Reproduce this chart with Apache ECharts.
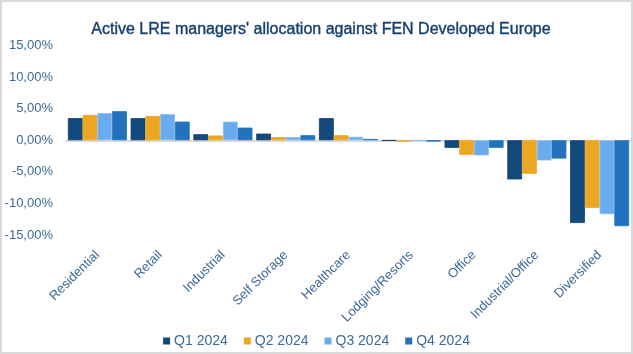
<!DOCTYPE html>
<html>
<head>
<meta charset="utf-8">
<script src="https://cdn.jsdelivr.net/npm/echarts@6/dist/echarts.min.js"></script>
<style>
  html, body { margin: 0; padding: 0; background: #fff; }
  #wrap { position: relative; width: 633px; height: 354px; }
  #main { width: 633px; height: 354px; }
  #frame { position: absolute; left: 0; top: 0; width: 633px; height: 354px;
           box-sizing: border-box; border: 2px solid #d9d9d9; pointer-events: none; }
</style>
</head>
<body>
<div id="wrap"><div id="main"></div><div id="frame"></div></div>
<script>
// categories and quarterly active allocation (%)
var categories = ['Residential', 'Retail', 'Industrial', 'Self Storage', 'Healthcare',
    'Lodging/Resorts', 'Office', 'Industrial/Office', 'Diversified'];
var q1 = [3.5, 3.5, 0.95, 1.05, 3.5, -0.05, -1.2, -6.2, -13.1];
var q2 = [4.0, 3.85, 0.75, 0.5, 0.8, -0.2, -2.3, -5.3, -10.7];
var q3 = [4.3, 4.15, 2.95, 0.5, 0.55, -0.05, -2.4, -3.2, -11.7];
var q4 = [4.6, 2.95, 2.0, 0.8, 0.2, -0.2, -1.2, -2.9, -13.6];
var seriesNames = ['Q1 2024', 'Q2 2024', 'Q3 2024', 'Q4 2024'];
var colors = ['#134a7e', '#eba721', '#6aaaef', '#2272be'];
var borders = ['#0e3a66', '#eba721', '#8cc0f4', '#2272be'];

var font = '"Liberation Sans", Arial, sans-serif';
var txtColor = '#3d6a9a';

var myChart = echarts.init(document.getElementById('main'));

var allData = [q1, q2, q3, q4];
var series = [];
for (var i = 0; i < allData.length; i++) {
    series.push({
        name: seriesNames[i],
        type: 'bar',
        data: allData[i],
        barGap: '0%',
        barCategoryGap: '6%',
        itemStyle: { color: colors[i], borderColor: borders[i], borderWidth: 0.8 }
    });
}

var option = {
    animation: false,
    title: {
        text: "Active LRE managers' allocation against FEN Developed Europe",
        left: 316,
        textAlign: 'center',
        top: 17,
        textStyle: {
            color: '#17406f', fontSize: 16, fontWeight: 'normal', fontFamily: font,
            textBorderColor: '#17406f', textBorderWidth: 0.4
        }
    },
    legend: {
        data: seriesNames,
        left: 'center',
        top: 329,
        itemWidth: 7,
        itemHeight: 7,
        itemGap: 16,
        icon: 'rect',
        itemStyle: { borderWidth: 0 },
        textStyle: { color: txtColor, fontSize: 14, fontFamily: font, padding: [0, 0, 0, -1] }
    },
    grid: { left: 66, right: 2, top: 45.5, bottom: 119 },
    xAxis: [
        {
            // labels sit under the plot
            type: 'category',
            data: categories,
            position: 'bottom',
            axisLine: { show: false, onZero: false },
            axisTick: { show: false },
            axisLabel: {
                rotate: 45,
                margin: 18,
                color: txtColor,
                fontSize: 13,
                fontFamily: font,
                interval: 0
            }
        },
        {
            // zero line
            type: 'category',
            data: categories,
            position: 'bottom',
            axisLine: { onZero: true, lineStyle: { color: '#d9d9d9', width: 2 } },
            axisTick: { show: false },
            axisLabel: { show: false }
        }
    ],
    yAxis: {
        type: 'value',
        min: -15,
        max: 15,
        interval: 5,
        axisLine: { show: false },
        axisTick: { show: false },
        splitLine: { show: false },
        axisLabel: {
            margin: 13,
            color: txtColor,
            fontSize: 13,
            fontFamily: font,
            formatter: function (v) { return v.toFixed(2).replace('.', ',') + '%'; }
        }
    },
    series: series
};

myChart.setOption(option);
</script>
</body>
</html>
